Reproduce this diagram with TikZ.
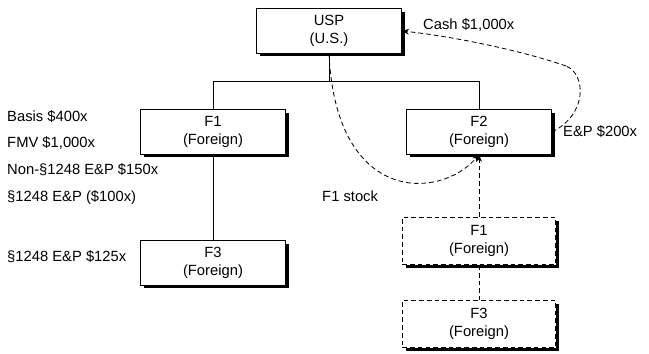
\documentclass[tikz,border=0pt]{standalone}
\usepackage{fontspec}
\setmainfont{Liberation Sans}
\usetikzlibrary{positioning,arrows.meta,shadows,calc}

\begin{document}
\begin{tikzpicture}[x=0.03cm, y=-0.03cm, >={Stealth[length=6pt,width=5pt]},
    entity/.style={rectangle, draw, line width=0.9pt, fill=white, minimum width=4.35cm, minimum height=1.33cm,
        align=center, font=\fontsize{12.6}{15.5}\selectfont,
        drop shadow={shadow xshift=2.8pt, shadow yshift=-2.8pt, fill=black, opacity=1}},
    entitynew/.style={entity, dash pattern=on 4pt off 2.6pt, minimum width=4.6cm, minimum height=1.42cm},
    note/.style={anchor=west, inner sep=0pt, font=\fontsize{12.6}{15.5}\selectfont},
    link/.style={line width=0.6pt},
    flow/.style={line width=0.7pt, dash pattern=on 4pt off 2.6pt}]
    \useasboundingbox (0,0) rectangle (649,353);

    \node[entity] (usp) at (329, 31) {USP\\(U.S.)};
    \node[entity] (fone) at (213, 132) {F1\\(Foreign)};
    \node[entity] (ftwo) at (479, 132) {F2\\(Foreign)};
    \node[entity] (fthree) at (213, 263) {F3\\(Foreign)};
    \node[entitynew] (fonenew) at (479, 241) {F1\\(Foreign)};
    \node[entitynew] (fthreenew) at (479, 324) {F3\\(Foreign)};

    % left side amounts
    \node[note] (basis) at (7, 117) {Basis \$400x};
    \node[note] (fmv) at (7, 143) {FMV \$1,000x};
    \node[note] (nonep) at (7, 170) {Non-§1248 E\&P \$150x};
    \node[note] (secep) at (7, 198) {§1248 E\&P (\$100x)};
    \node[note] (fthreeep) at (7, 257) {§1248 E\&P \$125x};

    % ownership lines
    \coordinate (split) at (329, 81);
    \draw[link] (usp.south) -- (split);
    \draw[link] (split) -| (fone.north);
    \draw[link] (split) -| (ftwo.north);
    \draw[link] (fone.south) -- (fthree.south |- fthree.north);

    % after the transfer
    \draw[flow, ->] (fonenew.north) -- (ftwo.south);
    \draw[flow] (fonenew.south) -- (fthreenew.north);

    % transfers
    \draw[flow, ->] (usp.south) .. controls (336, 205) and (440, 200) .. (ftwo.south);
    \node[note] (stocklbl) at (322, 196) {F1 stock};
    \coordinate (bend) at (566, 66);
    \draw[flow] (ftwo.east) .. controls (588, 114) and (586, 74) .. (bend);
    \draw[flow, ->] (bend) .. controls (520, 50) and (450, 36) .. (usp.east);
    \node[note] (cashlbl) at (423, 25) {Cash \$1,000x};
    \node[note] (eplbl) at (563, 132) {E\&P \$200x};
\end{tikzpicture}
\end{document}
